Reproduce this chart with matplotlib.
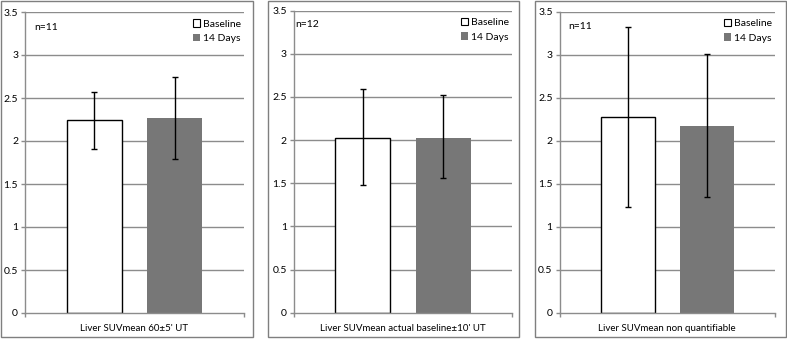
"""Liver SUVmean, baseline vs 14 days, three acquisition groups."""

import matplotlib.pyplot as plt
from matplotlib.patches import Patch, Rectangle

plt.rcParams["font.family"] = ["Lato", "DejaVu Sans"]

# data
groups = [
    "Liver SUVmean 60\u00b15' UT",
    "Liver SUVmean actual baseline\u00b110' UT",
    "Liver SUVmean non quantifiable",
]
n_labels = ["n=11", "n=12", "n=11"]
baseline_mean = [2.24, 2.03, 2.27]
baseline_err_hi = [2.57, 2.59, 3.32]
baseline_err_lo = [1.91, 1.48, 1.23]
day14_mean = [2.27, 2.03, 2.17]
day14_err_hi = [2.75, 2.52, 3.01]
day14_err_lo = [1.79, 1.56, 1.35]
series_names = ["Baseline", "14 Days"]
y_ticks = [0, 0.5, 1, 1.5, 2, 2.5, 3, 3.5]
y_tick_labels = ["0", "0.5", "1", "1.5", "2", "2.5", "3", "3.5"]

W, H = 787, 339
GRID = "#8c8c8c"
BAR_GREY = "#777777"

# pixel layout: (left, right, top, bottom) of each plot area
axes_px = [(25, 244, 12, 313), (293.7, 512.3, 10.7, 312.7), (559.5, 775, 11.7, 312.7)]
frames_px = [(0.5, 252.5, 1, 337), (268, 519, 1, 337), (535, 785.5, 1, 337)]
n_pos = [(0.041, 0.965), (0.006, 0.97), (0.041, 0.965)]

fig = plt.figure(figsize=(W / 100, H / 100), dpi=100)

for x0, x1, y0, y1 in frames_px:
    fig.add_artist(Rectangle((x0 / W, 1 - y1 / H), (x1 - x0) / W, (y1 - y0) / H,
                             transform=fig.transFigure, fill=False,
                             edgecolor="#7f7f7f", linewidth=1.0))

bar_w = 0.25
offset = 0.184

for i, (l, r, t, b) in enumerate(axes_px):
    ax = fig.add_axes([l / W, 1 - b / H, (r - l) / W, (b - t) / H])
    ax.set_xlim(-0.5, 0.5)
    ax.set_ylim(0, 3.5)

    for yv in y_ticks[1:]:
        ax.axhline(yv, color=GRID, linewidth=1.0, zorder=0)

    base = [baseline_mean[i]]
    day = [day14_mean[i]]
    ax.bar([-offset], base, width=bar_w, color="white", edgecolor="black",
           linewidth=1.0, zorder=2)
    ax.bar([offset], day, width=bar_w, color=BAR_GREY, linewidth=0, zorder=2)
    ax.errorbar([-offset], base,
                yerr=[[baseline_mean[i] - baseline_err_lo[i]],
                      [baseline_err_hi[i] - baseline_mean[i]]],
                fmt="none", ecolor="black", elinewidth=1.0, capsize=2.2,
                capthick=1.0, zorder=3)
    ax.errorbar([offset], day,
                yerr=[[day14_mean[i] - day14_err_lo[i]],
                      [day14_err_hi[i] - day14_mean[i]]],
                fmt="none", ecolor="black", elinewidth=1.0, capsize=2.2,
                capthick=1.0, zorder=3)

    for side in ("top", "right"):
        ax.spines[side].set_visible(False)
    for side in ("left", "bottom"):
        ax.spines[side].set_color(GRID)
        ax.spines[side].set_linewidth(1.0)

    ax.set_yticks(y_ticks)
    ax.set_yticklabels(y_tick_labels)
    ax.tick_params(axis="y", direction="out", length=3, width=1.0, color=GRID,
                   labelsize=7.5, pad=2)
    ax.set_xticks([0])
    ax.set_xticklabels([groups[i]])
    ax.set_xticks([-0.5, 0.5], minor=True)
    ax.tick_params(axis="x", which="major", length=0, labelsize=7, pad=8)
    ax.tick_params(axis="x", which="minor", direction="out", length=3,
                   width=1.0, color=GRID)

    ax.text(n_pos[i][0], n_pos[i][1], n_labels[i], transform=ax.transAxes,
            fontsize=7.5, ha="left", va="top")

    handles = [Patch(facecolor="white", edgecolor="black", linewidth=0.8),
               Patch(facecolor=BAR_GREY, edgecolor="none")]
    ax.legend(handles, series_names, loc="upper right",
              bbox_to_anchor=(1.02, 1.0), frameon=False, fontsize=7.5,
              handlelength=0.7, handleheight=0.7, handletextpad=0.3,
              labelspacing=0.5, borderaxespad=0.3)

fig.savefig("out.png", dpi=100)
